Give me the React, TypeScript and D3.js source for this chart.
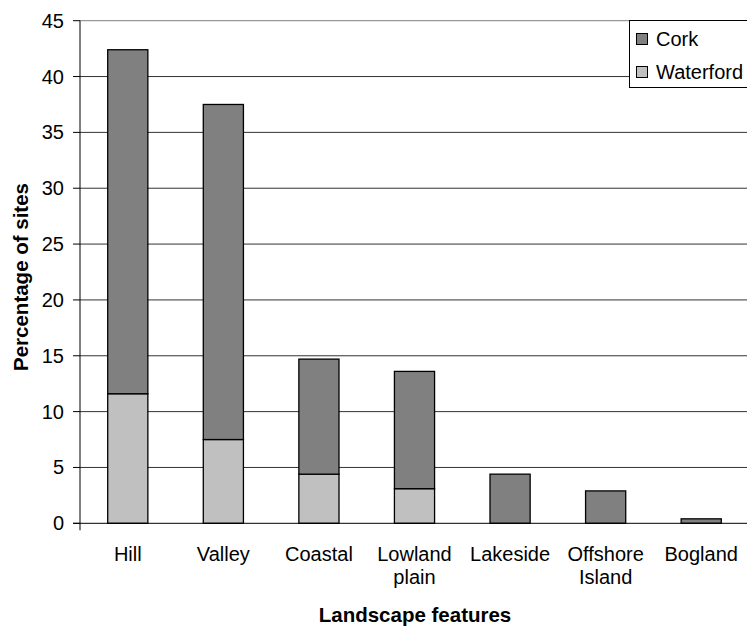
import React from "react";
import * as d3 from "d3";

const categories: string[][] = [["Hill"], ["Valley"], ["Coastal"], ["Lowland", "plain"], ["Lakeside"], ["Offshore", "Island"], ["Bogland"]];
const waterford: number[] = [11.6, 7.5, 4.4, 3.1, 0, 0, 0];
const cork: number[] = [30.8, 30.0, 10.3, 10.5, 4.4, 2.9, 0.4];
const yTicks: number[] = [0, 5, 10, 15, 20, 25, 30, 35, 40, 45];
const seriesNames = ["Cork", "Waterford"];

const W = 747, H = 626;
const left = 80, right = 749, top = 20.7, bottom = 523.3;
const FONT = "'Liberation Sans', Arial, sans-serif";

export default function App() {
  const x = d3.scaleBand<number>().domain(d3.range(categories.length)).range([left, right]).paddingInner(0.58).paddingOuter(0.29);
  const y = d3.scaleLinear().domain([0, 45]).range([bottom, top]);
  const colors = { Cork: "#808080", Waterford: "#C0C0C0" } as Record<string, string>;
  const fs = 20;
  return (
    <svg width={W} height={H} style={{ position: "absolute", left: 0, top: 0, background: "#fff" }} fontFamily={FONT}>
      {/* gridlines */}
      {yTicks.map((t) => (
        <g key={t}>
          {t > 0 && <line x1={left} x2={W} y1={y(t)} y2={y(t)} stroke={t === 45 ? "#808080" : "#333"} strokeWidth={1} />}
          <line x1={left - 7} x2={left} y1={y(t)} y2={y(t)} stroke="#000" />
          <text x={left - 16} y={y(t)} dy="0.35em" textAnchor="end" fontSize={fs} fill="#000">{t}</text>
        </g>
      ))}
      {/* bars */}
      {categories.map((c, i) => {
        const bx = x(i)!;
        const bw = x.bandwidth();
        const w0 = waterford[i];
        const c0 = cork[i];
        return (
          <g key={i}>
            {w0 > 0 && <rect x={bx} y={y(w0)} width={bw} height={y(0) - y(w0)} fill={colors.Waterford} stroke="#000" strokeWidth={1.3} />}
            <rect x={bx} y={y(w0 + c0)} width={bw} height={y(w0) - y(w0 + c0)} fill={colors.Cork} stroke="#000" strokeWidth={1.3} />
            <text x={bx + bw / 2} y={560.5} textAnchor="middle" fontSize={fs} fill="#000">
              {c.map((line, k) => (
                <tspan key={k} x={bx + bw / 2} dy={k === 0 ? 0 : 23}>{line}</tspan>
              ))}
            </text>
          </g>
        );
      })}
      {/* axes */}
      <line x1={left} x2={left} y1={top} y2={bottom + 7} stroke="#000" />
      <line x1={left - 7} x2={W} y1={bottom} y2={bottom} stroke="#000" />
      {/* axis titles */}
      <text x={415} y={622} textAnchor="middle" fontSize={20.5} fontWeight="bold">Landscape features</text>
      <text transform={`translate(28,277) rotate(-90)`} textAnchor="middle" fontSize={20.5} fontWeight="bold">Percentage of sites</text>
      {/* legend */}
      <rect x={629.5} y={20.5} width={130} height={67} fill="#fff" stroke="#000" />
      {seriesNames.map((s, i) => (
        <g key={s}>
          <rect x={636.5} y={33.5 + i * 33} width={11} height={11} fill={colors[s]} stroke="#000" />
          <text x={656} y={39 + i * 33} dy="0.35em" fontSize={fs}>{s}</text>
        </g>
      ))}
    </svg>
  );
}
